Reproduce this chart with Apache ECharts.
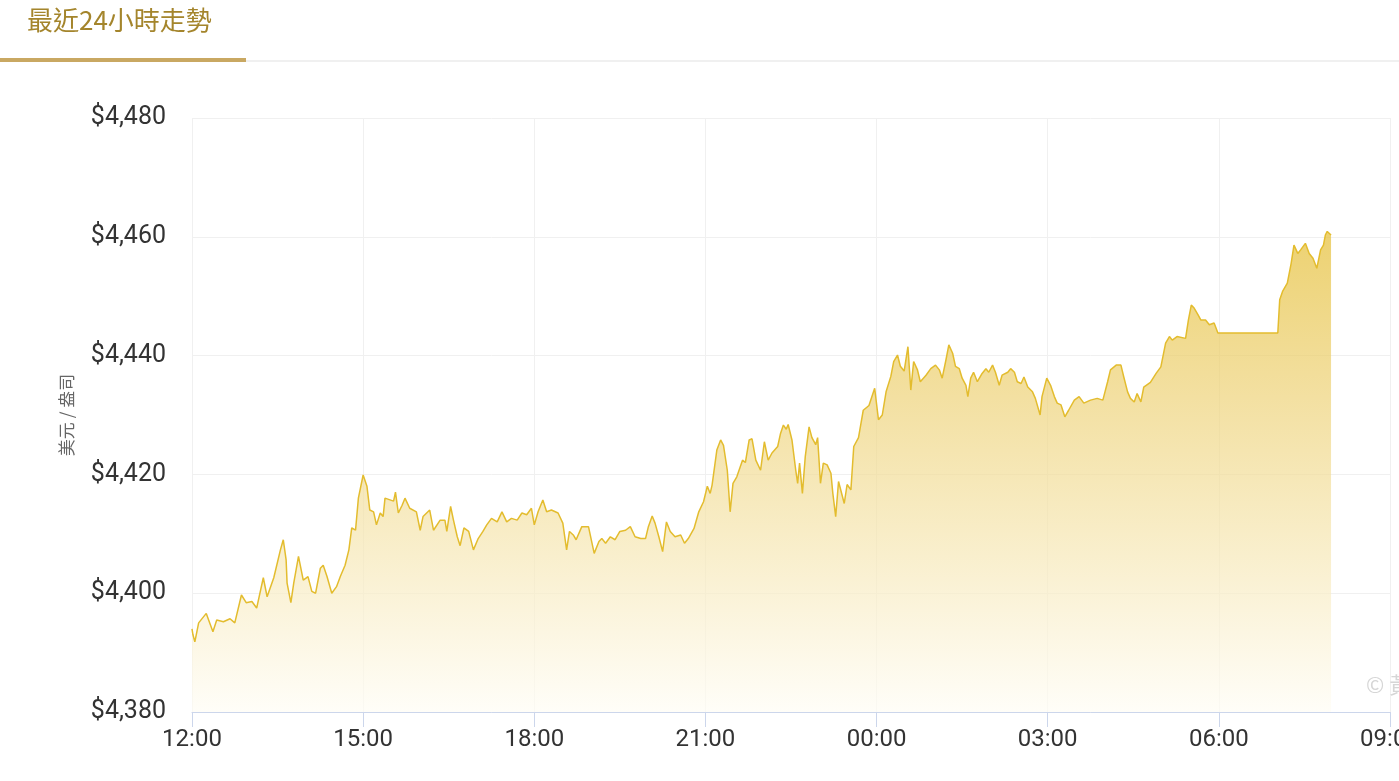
<!DOCTYPE html>
<html>
<head>
<meta charset="utf-8">
<script src="https://cdn.jsdelivr.net/npm/echarts@6/dist/echarts.min.js"></script>
<style>
html,body{margin:0;padding:0;background:#fff;}
#chart{width:1399px;height:781px;}
</style>
</head>
<body>
<div id="chart"></div>
<script>
var titleText = '最近24小時走勢';
var yAxisName = '美元 / 盎司';
var watermark = '© 黃金價格';
var yTicks = [4380, 4400, 4420, 4440, 4460, 4480];
var xTickLabels = ['12:00', '15:00', '18:00', '21:00', '00:00', '03:00', '06:00', '09:00'];

var times = ['12:00','12:01','12:03','12:07','12:15','12:22','12:26','12:33','12:40','12:45','12:52','12:57',
'13:03','13:08','13:15','13:19','13:26','13:33','13:36','13:39','13:40','13:44','13:47','13:52','13:57',
'14:02','14:06','14:10','14:15','14:18','14:22','14:27','14:32','14:36','14:41','14:45','14:48','14:52','14:55',
'15:00','15:04','15:07','15:11','15:14','15:18','15:21','15:23','15:32','15:34','15:37','15:41','15:44','15:49','15:56',
'16:00','16:03','16:10','16:14','16:21','16:26','16:28','16:32','16:35','16:39','16:42','16:46','16:51','16:56','16:58',
'17:01','17:06','17:10','17:15','17:21','17:26','17:31','17:36','17:42','17:47','17:52','17:57',
'18:00','18:04','18:09','18:13','18:18','18:25','18:30','18:34','18:37','18:41','18:44','18:50','18:57',
'19:03','19:08','19:11','19:15','19:20','19:25','19:30','19:36','19:41','19:46','19:52','19:57',
'20:00','20:04','20:07','20:11','20:15','20:19','20:23','20:28','20:34','20:38','20:42','20:48','20:53','20:58',
'21:02','21:05','21:07','21:12','21:16','21:19','21:23','21:26','21:29','21:33','21:39','21:42','21:46','21:49','21:53','21:58',
'22:02','22:06','22:10','22:16','22:19','22:22','22:25','22:27','22:31','22:35','22:37','22:39','22:42','22:45','22:49','22:52','22:56','22:58',
'23:01','23:04','23:08','23:12','23:14','23:17','23:20','23:26','23:29','23:33','23:36','23:41','23:46','23:52','23:58',
'00:02','00:06','00:10','00:15','00:18','00:22','00:25','00:29','00:33','00:36','00:39','00:43','00:46','00:52','00:57',
'01:02','01:06','01:09','01:13','01:16','01:20','01:23','01:27','01:30','01:34','01:36','01:39','01:42','01:46','01:51','01:55','01:58',
'02:02','02:05','02:09','02:12','02:18','02:21','02:25','02:28','02:32','02:35','02:39','02:44','02:47','02:52','02:54','02:59',
'03:03','03:07','03:10','03:14','03:18','03:22','03:28','03:33','03:38','03:45','03:52','03:58',
'04:03','04:06','04:12','04:17','04:20','04:24','04:27','04:31','04:34','04:38','04:41','04:48','04:54','04:59',
'05:04','05:08','05:11','05:16','05:25','05:28','05:31','05:34','05:38','05:41','05:46','05:50','05:55','05:59',
'07:02','07:04','07:07','07:12','07:16','07:19','07:23','07:26','07:31','07:35','07:39','07:43','07:47','07:50','07:52','07:54','07:58'];

var prices = [4394.0,4393.0,4391.8,4395.0,4396.6,4393.5,4395.5,4395.2,4395.7,4395.0,4399.7,4398.4,
4398.6,4397.5,4402.6,4399.4,4402.6,4407.3,4409.0,4405.6,4401.7,4398.4,4401.7,4406.2,4402.2,
4402.8,4400.3,4400.0,4404.2,4404.7,4402.8,4400.0,4401.1,4402.8,4404.7,4407.3,4411.0,4410.6,4416.0,
4419.9,4418.0,4414.0,4413.7,4411.5,4413.5,4412.9,4416.0,4415.5,4417.0,4413.5,4414.8,4416.0,4414.3,4413.7,
4410.6,4412.9,4414.0,4410.6,4412.3,4412.3,4410.4,4414.6,4412.3,4409.5,4408.0,4411.0,4410.4,4407.3,4407.0,
4409.2,4410.4,4411.5,4412.6,4412.0,4413.7,4412.0,4412.6,4412.3,4413.5,4413.2,4414.3,
4411.5,4413.7,4415.7,4413.7,4414.0,4413.5,4411.8,4407.3,4410.4,4409.8,4409.0,4411.2,4411.2,
4406.7,4408.7,4409.2,4408.4,4409.5,4409.0,4410.4,4410.6,4411.2,4409.5,4409.2,4409.2,
4411.2,4413.0,4411.8,4409.5,4407.0,4412.0,4410.4,4409.5,4409.8,4408.4,4409.2,4410.9,4413.7,4415.4,
4418.0,4416.8,4418.2,4424.1,4425.8,4424.9,4420.7,4413.7,4418.5,4419.6,4422.4,4422.0,4425.8,4426.0,4422.4,4420.7,
4425.5,4422.4,4423.6,4424.7,4426.9,4428.3,4427.6,4428.4,4425.8,4420.7,4418.5,4421.9,4416.8,4423.0,4428.0,4426.2,4425.0,4426.2,
4418.5,4421.9,4421.6,4420.2,4416.8,4412.9,4418.8,4415.1,4418.3,4417.4,4424.7,4426.2,4430.8,4431.6,4434.5,
4429.2,4430.0,4433.9,4436.5,4439.0,4440.1,4438.2,4437.4,4441.5,4434.2,4439.0,4437.6,4435.6,4436.7,4437.8,
4438.4,4437.6,4436.2,4439.3,4441.8,4440.4,4438.2,4437.8,4436.2,4435.0,4433.1,4436.2,4437.2,4435.6,4437.0,4437.8,4437.2,
4438.4,4437.2,4435.0,4436.7,4437.2,4437.8,4437.2,4435.6,4435.3,4436.4,4434.7,4433.9,4432.8,4430.0,4433.1,4436.2,
4435.0,4433.1,4432.0,4431.7,4429.7,4430.8,4432.5,4433.1,4432.0,4432.5,4432.8,4432.5,
4435.6,4437.6,4438.4,4438.4,4436.4,4433.9,4432.8,4432.2,4433.6,4432.2,4434.7,4435.5,4437.0,4438.1,
4442.1,4443.2,4442.6,4443.2,4442.9,4446.0,4448.5,4448.0,4446.9,4446.0,4446.0,4445.2,4445.5,4443.8,
4443.8,4449.4,4450.8,4452.2,4455.5,4458.6,4457.2,4457.8,4458.9,4457.2,4456.4,4454.7,4457.8,4458.6,4460.3,4460.9,4460.3];

// minutes since 12:00 (start of window)
function toMinutes(t) {
  var p = t.split(':');
  var h = parseInt(p[0], 10), m = parseInt(p[1], 10);
  if (h < 12) h += 24;
  return (h - 12) * 60 + m;
}
var seriesData = times.map(function (t, i) { return [toMinutes(t), prices[i]]; });

var chart = echarts.init(document.getElementById('chart'), null, {renderer: 'canvas'});
var option = {
  animation: false,
  backgroundColor: '#ffffff',
  grid: {left: 192, right: 9, top: 118, bottom: 69, containLabel: false, outerBoundsMode: 'none'},
  graphic: [
    {type: 'text', left: 27, top: 7, style: {text: titleText, fontSize: 26, fill: '#a4852c', fontFamily: 'Noto Sans CJK TC'}},
    {type: 'rect', shape: {x: 0, y: 58, width: 246, height: 4}, style: {fill: '#c9a862'}},
    {type: 'rect', shape: {x: 246, y: 60, width: 1153, height: 2}, style: {fill: '#f0f0f0'}},
    {type: 'text', left: 1366, top: 674, z: 1, style: {text: watermark, fontSize: 22, fill: '#d6d6d6', fontFamily: 'Noto Sans CJK TC'}}
  ],
  xAxis: {
    type: 'value',
    min: 0,
    max: 1260,
    interval: 180,
    axisLine: {show: true, lineStyle: {color: '#ccd6eb', width: 1}},
    axisTick: {show: true, length: 15, lineStyle: {color: '#ccd6eb'}},
    axisLabel: {
      margin: 16,
      fontSize: 24,
      color: '#333333',
      fontFamily: 'Roboto',
      showMaxLabel: true,
      hideOverlap: false,
      formatter: function (v) { return xTickLabels[Math.round(v / 180)] || ''; }
    },
    splitLine: {show: true, lineStyle: {color: '#f0f0f0', width: 1}}
  },
  yAxis: {
    type: 'value',
    min: yTicks[0],
    max: yTicks[yTicks.length - 1],
    interval: 20,
    name: yAxisName,
    nameLocation: 'middle',
    nameGap: 117,
    nameRotate: 90,
    nameTextStyle: {fontSize: 17, color: '#666666', fontFamily: 'Noto Sans CJK TC'},
    axisLine: {show: false},
    axisTick: {show: false},
    axisLabel: {
      margin: 26,
      fontSize: 25,
      color: '#333333',
      fontFamily: 'Roboto',
      verticalAlign: 'middle',
      padding: [8, 0, 0, 0],
      formatter: function (v) { return '$' + Math.floor(v / 1000) + ',' + String(v % 1000).padStart(3, '0'); }
    },
    splitLine: {show: true, lineStyle: {color: '#f0f0f0', width: 1}}
  },
  series: [{
    type: 'line',
    data: seriesData,
    showSymbol: false,
    symbol: 'none',
    smooth: false,
    lineStyle: {color: '#e3bc2e', width: 1.5},
    areaStyle: {
      origin: 'start',
      color: new echarts.graphic.LinearGradient(0, 0, 0, 1, [
        {offset: 0, color: 'rgba(229,190,52,1)'},
        {offset: 0.35, color: 'rgba(238,211,122,1)'},
        {offset: 1, color: 'rgba(255,253,245,1)'}
      ])
    },
    z: 2
  }]
};
chart.setOption(option);
</script>
</body>
</html>
